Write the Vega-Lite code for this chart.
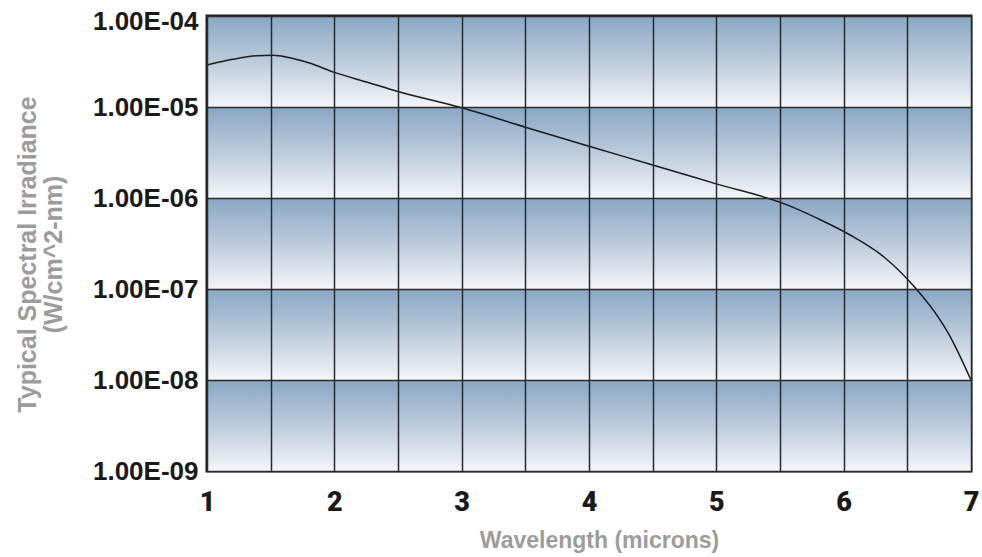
{
  "$schema": "https://vega.github.io/schema/vega-lite/v6.json",
  "width": 764,
  "height": 455,
  "autosize": {"type": "none"},
  "padding": {"left": 207, "top": 16, "right": 11, "bottom": 86},
  "background": "white",
  "config": {
    "view": {"stroke": "#1e1e1e", "strokeWidth": 3}
  },
  "datasets": {
    "bands": [
      {"lo": 1e-9, "hi": 1e-8, "x0": 1, "x1": 7},
      {"lo": 1e-8, "hi": 1e-7, "x0": 1, "x1": 7},
      {"lo": 1e-7, "hi": 1e-6, "x0": 1, "x1": 7},
      {"lo": 1e-6, "hi": 1e-5, "x0": 1, "x1": 7},
      {"lo": 1e-5, "hi": 1e-4, "x0": 1, "x1": 7}
    ],
    "curve": [
      {"wavelength": 1.0, "irradiance": 2.90e-5},
      {"wavelength": 1.2, "irradiance": 3.34e-5},
      {"wavelength": 1.39, "irradiance": 3.66e-5},
      {"wavelength": 1.52, "irradiance": 3.70e-5},
      {"wavelength": 1.63, "irradiance": 3.52e-5},
      {"wavelength": 1.81, "irradiance": 3.02e-5},
      {"wavelength": 2.0, "irradiance": 2.40e-5},
      {"wavelength": 2.26, "irradiance": 1.87e-5},
      {"wavelength": 2.5, "irradiance": 1.48e-5},
      {"wavelength": 3.0, "irradiance": 9.8e-6},
      {"wavelength": 3.5, "irradiance": 6.0e-6},
      {"wavelength": 4.0, "irradiance": 3.7e-6},
      {"wavelength": 4.5, "irradiance": 2.31e-6},
      {"wavelength": 5.0, "irradiance": 1.43e-6},
      {"wavelength": 5.556, "irradiance": 8.4e-7},
      {"wavelength": 5.79, "irradiance": 6.0e-7},
      {"wavelength": 6.05, "irradiance": 3.92e-7},
      {"wavelength": 6.326, "irradiance": 2.19e-7},
      {"wavelength": 6.562, "irradiance": 1.03e-7},
      {"wavelength": 6.758, "irradiance": 4.56e-8},
      {"wavelength": 6.82, "irradiance": 3.3e-8},
      {"wavelength": 7.0, "irradiance": 1.0e-8}
    ]
  },
  "layer": [
    {
      "data": {"name": "bands"},
      "mark": {
        "type": "rect",
        "color": {
          "gradient": "linear", "x1": 0, "y1": 0, "x2": 0, "y2": 1,
          "stops": [
            {"offset": 0, "color": "#88a7c4"},
            {"offset": 0.5, "color": "#bccbdc"},
            {"offset": 0.88, "color": "#e6ebf2"},
            {"offset": 1, "color": "#f5f6fa"}
          ]
        }
      },
      "encoding": {
        "x": {"field": "x0", "type": "quantitative"},
        "x2": {"field": "x1"},
        "y": {"field": "lo", "type": "quantitative"},
        "y2": {"field": "hi"}
      }
    },
    {
      "data": {"name": "curve"},
      "mark": {"type": "line", "color": "#1c1c1c", "strokeWidth": 1.5, "interpolate": "monotone"},
      "encoding": {
        "x": {
          "field": "wavelength", "type": "quantitative",
          "scale": {"domain": [1, 7], "nice": false, "zero": false},
          "axis": {
            "zindex": 1, "grid": true, "domain": false, "ticks": false,
            "gridColor": "#2a2a2a", "gridWidth": 1.5, "gridOpacity": 1,
            "values": [1, 1.5, 2, 2.5, 3, 3.5, 4, 4.5, 5, 5.5, 6, 6.5, 7],
            "labelExpr": "datum.value % 1 === 0 ? format(datum.value, 'd') : ''",
            "labelFont": "Roboto", "labelFontWeight": 900, "labelFontSize": 27,
            "labelColor": "#1a1a1a", "labelPadding": 18, "labelFlush": false,
            "title": "Wavelength (microns)",
            "titleFont": "Liberation Sans", "titleFontWeight": "bold", "titleFontSize": 23,
            "titleColor": "#9c9c9c", "titlePadding": 14, "titleX": 392
          }
        },
        "y": {
          "field": "irradiance", "type": "quantitative",
          "scale": {"type": "log", "domain": [1e-9, 1e-4], "nice": false},
          "axis": {
            "zindex": 1, "grid": true, "domain": false, "ticks": false,
            "gridColor": "#2a2a2a", "gridWidth": 1.5, "gridOpacity": 1,
            "values": [1e-9, 1e-8, 1e-7, 1e-6, 1e-5, 1e-4],
            "labelExpr": "'1.00E-0' + round(-log(datum.value) / LN10)",
            "labelFont": "Liberation Sans", "labelFontWeight": "bold", "labelFontSize": 26,
            "labelColor": "#1a1a1a", "labelPadding": 9,
            "labelOffset": {"condition": {"test": "datum.value > 5e-5", "value": 5}, "value": 0},
            "title": ["Typical Spectral Irradiance", "(W/cm^2-nm)"],
            "titleFont": "Liberation Sans", "titleFontWeight": "bold", "titleFontSize": 25,
            "titleLineHeight": 26,
            "titleColor": "#9c9c9c", "titlePadding": 26, "titleY": 238
          }
        }
      }
    }
  ]
}
